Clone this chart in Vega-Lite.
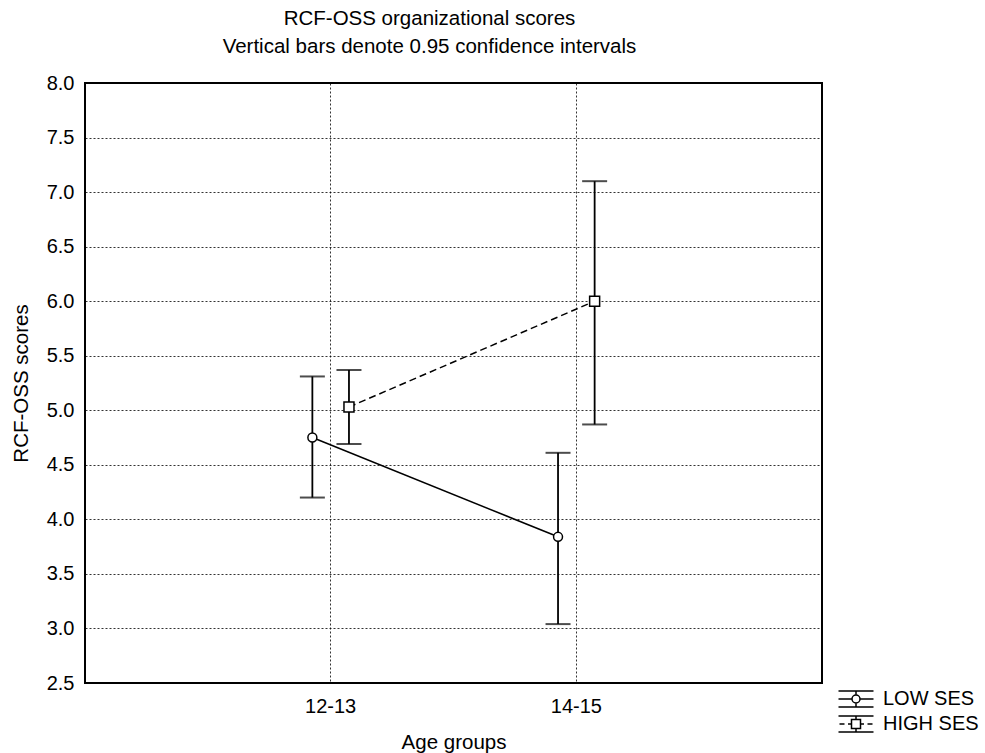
{
  "$schema": "https://vega.github.io/schema/vega-lite/v6.json",
  "width": 737,
  "height": 600,
  "autosize": "none",
  "padding": {"left": 85, "top": 83, "right": 163, "bottom": 70},
  "background": "white",
  "title": {
    "text": ["RCF-OSS organizational scores", "Vertical bars denote 0.95 confidence intervals"],
    "fontSize": 20.5,
    "fontWeight": "normal",
    "font": "Liberation Sans",
    "color": "black",
    "lineHeight": 28,
    "anchor": "middle",
    "dx": -24,
    "offset": 16
  },
  "config": {
    "font": "Liberation Sans",
    "view": {"stroke": "black", "strokeWidth": 2},
    "axis": {
      "labelFont": "Liberation Sans",
      "titleFont": "Liberation Sans",
      "labelFontSize": 20,
      "titleFontSize": 20.5,
      "labelColor": "black",
      "titleColor": "black",
      "titleFontWeight": "normal",
      "domain": false,
      "ticks": false,
      "grid": true,
      "gridColor": "black",
      "gridDash": [2, 2],
      "gridWidth": 1,
      "gridOpacity": 0.8
    }
  },
  "data": {
    "values": [
      {"age": "12-13", "ses": "LOW SES", "mean": 4.75, "lo": 4.20, "hi": 5.31},
      {"age": "14-15", "ses": "LOW SES", "mean": 3.84, "lo": 3.04, "hi": 4.61},
      {"age": "12-13", "ses": "HIGH SES", "mean": 5.03, "lo": 4.69, "hi": 5.37},
      {"age": "14-15", "ses": "HIGH SES", "mean": 6.00, "lo": 4.87, "hi": 7.10}
    ]
  },
  "encoding": {
    "x": {
      "field": "age",
      "type": "nominal",
      "scale": {"type": "band", "domain": ["12-13", "14-15"], "paddingInner": 0.702, "paddingOuter": 0.851},
      "axis": {"title": "Age groups", "labelAngle": 0, "labelPadding": 13, "titlePadding": 16, "bandPosition": 0.5}
    },
    "xOffset": {
      "field": "ses",
      "type": "nominal",
      "scale": {"domain": ["LOW SES", "HIGH SES"], "paddingInner": 0, "paddingOuter": 0}
    }
  },
  "layer": [
    {
      "mark": {"type": "rule", "color": "black", "strokeWidth": 1.8},
      "encoding": {
        "y": {"field": "lo", "type": "quantitative",
              "scale": {"domain": [2.5, 8.0], "nice": false, "zero": false},
              "axis": {"title": "RCF-OSS scores", "values": [2.5, 3, 3.5, 4, 4.5, 5, 5.5, 6, 6.5, 7, 7.5, 8], "format": ".1f", "labelPadding": 11, "titlePadding": 15}},
        "y2": {"field": "hi"}
      }
    },
    {
      "mark": {"type": "tick", "color": "black", "size": 25, "thickness": 2},
      "encoding": {"y": {"field": "lo", "type": "quantitative"}}
    },
    {
      "mark": {"type": "tick", "color": "black", "size": 25, "thickness": 2},
      "encoding": {"y": {"field": "hi", "type": "quantitative"}}
    },
    {
      "transform": [{"filter": "datum.ses === 'LOW SES'"}],
      "mark": {"type": "line", "color": "black", "strokeWidth": 1.5},
      "encoding": {"y": {"field": "mean", "type": "quantitative"}}
    },
    {
      "transform": [{"filter": "datum.ses === 'HIGH SES'"}],
      "mark": {"type": "line", "color": "black", "strokeWidth": 1.5, "strokeDash": [7, 4]},
      "encoding": {"y": {"field": "mean", "type": "quantitative"}}
    },
    {
      "transform": [{"filter": "datum.ses === 'LOW SES'"}],
      "mark": {"type": "point", "shape": "circle", "filled": true, "fill": "white", "stroke": "black", "strokeWidth": 1.5, "size": 80, "opacity": 1},
      "encoding": {"y": {"field": "mean", "type": "quantitative"}}
    },
    {
      "transform": [{"filter": "datum.ses === 'HIGH SES'"}],
      "mark": {"type": "point", "shape": "square", "filled": true, "fill": "white", "stroke": "black", "strokeWidth": 1.5, "size": 100, "opacity": 1},
      "encoding": {"y": {"field": "mean", "type": "quantitative"}}
    },
    {
      "mark": {"type": "point", "opacity": 0, "filled": false},
      "encoding": {
        "y": {"field": "mean", "type": "quantitative"},
        "shape": {
          "field": "ses",
          "type": "nominal",
          "scale": {
            "domain": ["LOW SES", "HIGH SES"],
            "range": [
              "M-1.75,-0.8H1.75M-1.75,0.8H1.75M0,-0.8V-0.4M0,0.4V0.8M-1.75,0H-0.4M0.4,0H1.75M-0.4,0A0.4,0.4 0 1,0 0.4,0A0.4,0.4 0 1,0 -0.4,0Z",
              "M-1.75,-0.8H1.75M-1.75,0.8H1.75M0,-0.8V-0.45M0,0.45V0.8M-1.65,0H-1.15M-0.8,0H-0.45M0.45,0H0.8M1.15,0H1.65M-0.45,-0.45H0.45V0.45H-0.45Z"
            ]
          },
          "legend": {
            "title": null,
            "orient": "none",
            "legendX": 760,
            "legendY": 605,
            "symbolSize": 400,
            "symbolOpacity": 1,
            "symbolStrokeColor": "black",
            "symbolFillColor": "white",
            "symbolStrokeWidth": 1.5,
            "labelFontSize": 20,
            "labelColor": "black",
            "labelFont": "Liberation Sans",
            "labelOffset": 16,
            "rowPadding": 3,
            "padding": 0
          }
        }
      }
    }
  ]
}
